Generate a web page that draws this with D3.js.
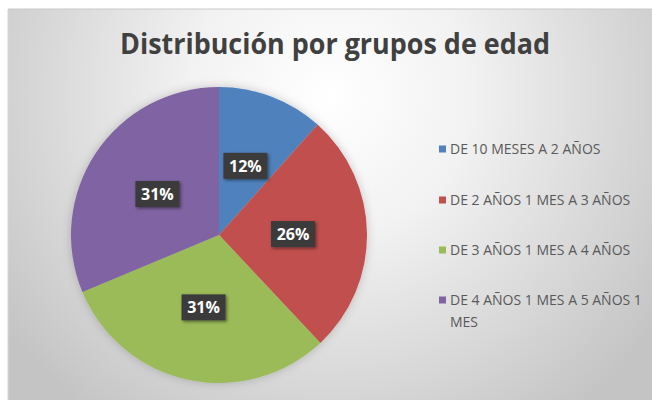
<!DOCTYPE html>
<meta charset="utf-8">
<style>
    body { margin: 0; background: #fff; }
    .title { font-family: 'Open Sans', sans-serif; font-weight: bold; fill: #404040; }
    .legend text { font-family: 'Open Sans', sans-serif; font-size: 14px; fill: #595959; }
    .lbl text { font-family: 'Open Sans', sans-serif; font-weight: bold; font-size: 16px; fill: #fff; }
</style>
<svg width="652" height="400"></svg>
<script src="https://d3js.org/d3.v7.min.js"></script>
<script>

    var categories = ["DE 10 MESES A 2 AÑOS", "DE 2 AÑOS 1 MES A 3 AÑOS", "DE 3 AÑOS 1 MES A 4 AÑOS", "DE 4 AÑOS 1 MES A 5 AÑOS 1 MES"];
    var values = [11.6, 26.4, 30.7, 31.3];
    var colors = ["#4f81bd", "#c0504d", "#9bbb59", "#8064a2"];

    var svg = d3.select("svg");
    var defs = svg.append("defs");

    var grad = defs.append("radialGradient")
        .attr("id", "bg")
        .attr("gradientUnits", "userSpaceOnUse")
        .attr("cx", 330).attr("cy", 95).attr("r", 400);
    grad.append("stop").attr("offset", "0").attr("stop-color", "#ffffff");
    grad.append("stop").attr("offset", "0.35").attr("stop-color", "#f2f2f2");
    grad.append("stop").attr("offset", "1").attr("stop-color", "#c4c4c4");

    var shadow = defs.append("filter").attr("id", "sh")
        .attr("x", "-20%").attr("y", "-20%").attr("width", "140%").attr("height", "140%");
    shadow.append("feDropShadow").attr("dx", 1.5).attr("dy", 1.5)
        .attr("stdDeviation", 1.5).attr("flood-color", "#000").attr("flood-opacity", 0.45);

    var pieShadow = defs.append("filter").attr("id", "psh")
        .attr("x", "-20%").attr("y", "-20%").attr("width", "140%").attr("height", "140%");
    pieShadow.append("feDropShadow").attr("dx", 0).attr("dy", 0)
        .attr("stdDeviation", 5).attr("flood-color", "#000").attr("flood-opacity", 0.2);

    // chart area
    svg.append("rect")
        .attr("x", 8).attr("y", 9).attr("width", 644).attr("height", 391)
        .attr("fill", "url(#bg)");
    svg.append("line")
        .attr("x1", 8).attr("x2", 652).attr("y1", 9).attr("y2", 9)
        .attr("stroke", "#c8c8c8");
    svg.append("line")
        .attr("x1", 8).attr("x2", 8).attr("y1", 9).attr("y2", 400)
        .attr("stroke", "#d6d6d6");

    svg.append("text")
        .attr("class", "title")
        .attr("x", 335).attr("y", 54)
        .attr("text-anchor", "middle")
        .attr("font-size", 29)
        .attr("textLength", 430)
        .attr("lengthAdjust", "spacingAndGlyphs")
        .text("Distribución por grupos de edad");

    var cx = 219, cy = 235, radius = 148;

    var pie = d3.pie().sort(null).value(function(d) { return d; });
    var arcs = pie(values);
    var arc = d3.arc().innerRadius(0).outerRadius(radius);
    var labelArc = d3.arc().innerRadius(radius * 0.5).outerRadius(radius * 0.5);

    var g = svg.append("g").attr("transform", "translate(" + cx + "," + cy + ")");

    g.append("g").attr("filter", "url(#psh)")
        .selectAll("path")
        .data(arcs)
        .enter().append("path")
        .attr("d", arc)
        .attr("fill", function(d, i) { return colors[i]; });

    var fmt = d3.format(".0f");
    var lbl = g.selectAll(".lbl")
        .data(arcs)
        .enter().append("g")
        .attr("class", "lbl")
        .attr("transform", function(d) { return "translate(" + labelArc.centroid(d) + ")"; });

    lbl.append("rect")
        .attr("x", -22).attr("y", -13).attr("width", 44).attr("height", 26)
        .attr("fill", "#3a3a3a")
        .attr("filter", "url(#sh)");

    lbl.append("text")
        .attr("text-anchor", "middle")
        .attr("dy", "0.36em")
        .text(function(d) { return fmt(d.data) + "%"; });

    // legend
    var legendY = [149, 200, 250, 300];
    var legend = svg.append("g").attr("class", "legend")
        .selectAll("g")
        .data(categories)
        .enter().append("g")
        .attr("transform", function(d, i) { return "translate(439," + legendY[i] + ")"; });

    legend.append("rect")
        .attr("x", 0).attr("y", -3.5).attr("width", 7).attr("height", 7)
        .attr("fill", function(d, i) { return colors[i]; });

    legend.append("text")
        .attr("x", 11)
        .each(function(d) {
            var t = d3.select(this);
            var lines = d.length > 26 ? [d.slice(0, d.lastIndexOf(" ")), d.slice(d.lastIndexOf(" ") + 1)] : [d];
            lines.forEach(function(s, k) {
                t.append("tspan").attr("x", 11).attr("dy", k === 0 ? "0.35em" : "1.6em").text(s);
            });
        });

</script>
